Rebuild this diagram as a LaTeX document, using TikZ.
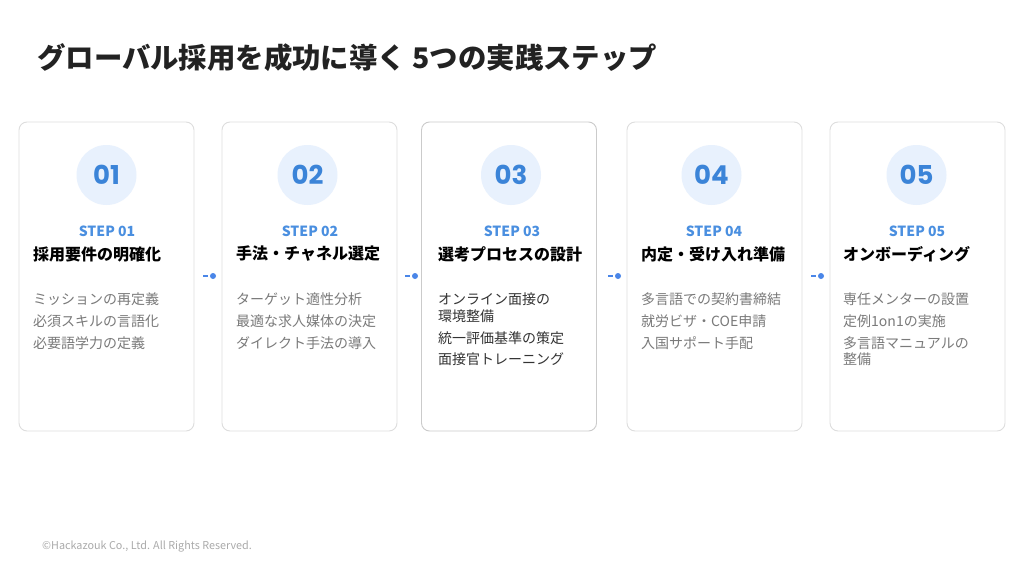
\documentclass[tikz,border=0pt]{standalone}
\usepackage{fontspec}
\setmainfont{Noto Sans CJK JP}
\newfontfamily\numfont{Poppins}
\usetikzlibrary{positioning}
\definecolor{titlec}{HTML}{222222}
\definecolor{cardline}{HTML}{DDDDDD}
\definecolor{circfill}{HTML}{E8F1FD}
\definecolor{numblue}{HTML}{3B84D8}
\definecolor{stepblue}{HTML}{4A8FE0}
\definecolor{itemgrey}{HTML}{7A7A7A}
\definecolor{itemdark}{HTML}{333333}
\definecolor{footc}{HTML}{AAAAAA}
\definecolor{conn}{HTML}{4A86E8}
\tikzset{
  x=1pt,y=-1pt,
  card/.style={draw=cardline,line width=0.9pt,rounded corners=8pt,fill=white,minimum width=175pt,minimum height=309pt,inner sep=0pt},
  numcirc/.style={circle,fill=circfill,minimum size=60pt,inner sep=0pt,font=\numfont\bfseries\fontsize{26}{26}\selectfont,text=numblue},
  steplbl/.style={inner sep=0pt,font=\bfseries\fontsize{14}{14}\selectfont,text=stepblue},
  ttl/.style={inner sep=0pt,anchor=west,font=\bfseries\fontsize{16}{16}\selectfont,text=black},
  item/.style={inner sep=0pt,anchor=west,font=\fontsize{14}{14}\selectfont,text=itemgrey},
  itemd/.style={item,text=itemdark},
  cdot/.style={circle,fill=conn,minimum size=6pt,inner sep=0pt},
  cdash/.style={draw=conn,line width=1.6pt}
}
\begin{document}
\begin{tikzpicture}
\useasboundingbox[fill=white] (0,0) rectangle (1024,576);
\node[anchor=west,inner sep=0pt,font=\bfseries\fontsize{28.4}{28.4}\selectfont,text=titlec] (title) at (37,58) {グローバル採用を成功に導く 5つの実践ステップ};

% cards
\node[card] (c1) at (106.5,276.5) {};
\node[card] (c2) at (309.5,276.5) {};
\node[card,draw=cardline!80!black!40!cardline] (c3) at (509,276.5) {};
\node[card] (c4) at (714.5,276.5) {};
\node[card] (c5) at (917.5,276.5) {};

% circles
\node[numcirc] (n1) at (106.5,175) {01};
\node[numcirc] (n2) at (307.5,175) {02};
\node[numcirc] (n3) at (511,175) {03};
\node[numcirc] (n4) at (711.5,175) {04};
\node[numcirc] (n5) at (916.5,175) {05};

% step labels
\node[steplbl] (s1) at (107,231) {STEP 01};
\node[steplbl] (s2) at (310,231) {STEP 02};
\node[steplbl] (s3) at (512,231) {STEP 03};
\node[steplbl] (s4) at (714,231) {STEP 04};
\node[steplbl] (s5) at (917,231) {STEP 05};

% titles
\node[ttl] (t1) at (33,254) {採用要件の明確化};
\node[ttl] (t2) at (236,254) {手法・チャネル選定};
\node[ttl] (t3) at (438,254) {選考プロセスの設計};
\node[ttl] (t4) at (641,254) {内定・受け入れ準備};
\node[ttl] (t5) at (843,254) {オンボーディング};

% items
\node[item] (i11) at (33,299) {ミッションの再定義};
\node[item] (i12) at (33,321) {必須スキルの言語化};
\node[item] (i13) at (33,343) {必要語学力の定義};

\node[item] (i21) at (236,299) {ターゲット適性分析};
\node[item] (i22) at (236,321) {最適な求人媒体の決定};
\node[item] (i23) at (236,343) {ダイレクト手法の導入};

\node[itemd] (i31) at (438,299) {オンライン面接の};
\node[itemd] (i31b) at (438,316) {環境整備};
\node[itemd] (i32) at (438,338) {統一評価基準の策定};
\node[itemd] (i33) at (438,359) {面接官トレーニング};

\node[item] (i41) at (641,299) {多言語での契約書締結};
\node[item] (i42) at (641,321) {就労ビザ・COE申請};
\node[item] (i43) at (641,343) {入国サポート手配};

\node[item] (i51) at (843,299) {専任メンターの設置};
\node[item] (i52) at (843,321) {定例1on1の実施};
\node[item] (i53) at (843,343) {多言語マニュアルの};
\node[item] (i53b) at (843,359) {整備};

% connectors
\node[cdot] (d1) at (213,276) {};
\node[cdot] (d2) at (415,276) {};
\node[cdot] (d3) at (618,276) {};
\node[cdot] (d4) at (821,276) {};
\coordinate (e1) at (203,276);
\coordinate (e2) at (405,276);
\coordinate (e3) at (608,276);
\coordinate (e4) at (811,276);
\foreach \i in {1,2,3,4}{
  \draw[cdash] (e\i) -- ++(4.5,0);
}

\node[anchor=west,inner sep=0pt,font=\fontsize{10.8}{10.8}\selectfont,text=footc] (foot) at (42,547) {©Hackazouk Co., Ltd. All Rights Reserved.};
\end{tikzpicture}
\end{document}
